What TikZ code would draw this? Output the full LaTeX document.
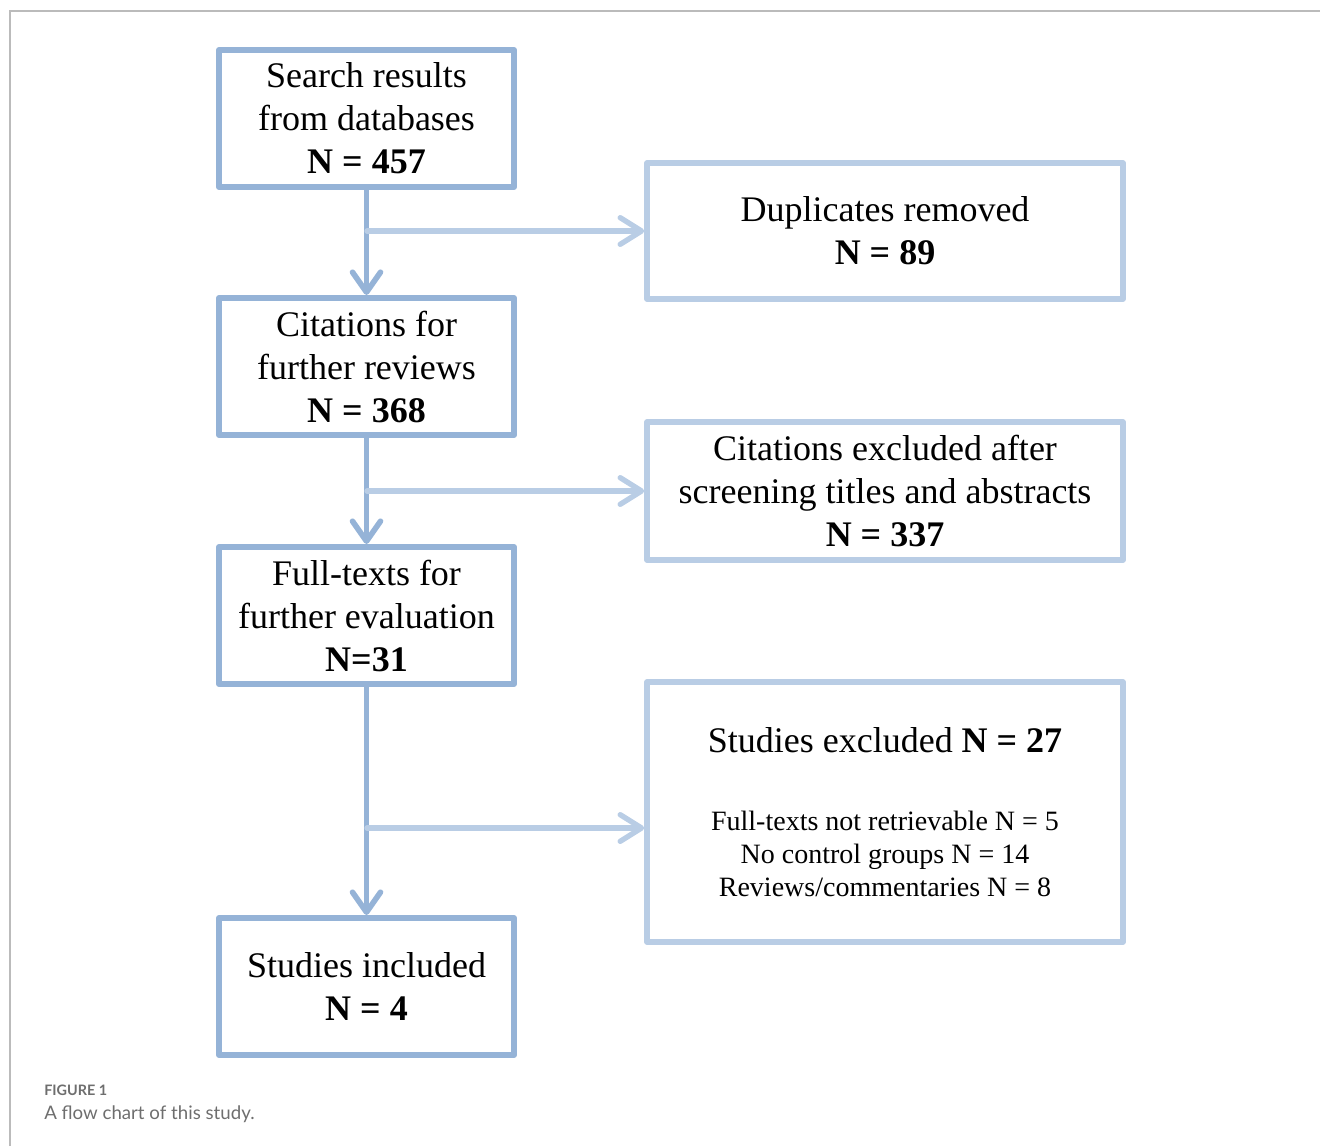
\documentclass[tikz,border=0pt]{standalone}
\usepackage{fontspec}
\setmainfont{Liberation Serif}
\newfontfamily\capfont{Lato}
\usetikzlibrary{arrows.meta}
\definecolor{darkblue}{HTML}{95B3D7}
\definecolor{lightblue}{HTML}{B9CDE5}
\definecolor{framegray}{HTML}{BBBBBB}
\definecolor{capgray}{HTML}{6E6E6E}
\tikzset{
  leftbox/.style={draw=darkblue, line width=4.5pt, line join=round, minimum width=221.25pt, minimum height=102.75pt, align=center, inner sep=0pt,
    font=\fontsize{27pt}{32.25pt}\selectfont},
  rightbox/.style={draw=lightblue, line width=4.2pt, line join=round, minimum width=357pt, align=center, inner sep=0pt,
    font=\fontsize{27pt}{32.25pt}\selectfont},
  varrow/.style={draw=darkblue, line width=4.2pt, line cap=round, line join=round,
    -{Straight Barb[length=15pt,width=21pt,line cap=round,line join=round]}},
  harrow/.style={draw=lightblue, line width=4pt, line cap=round, line join=round,
    -{Straight Barb[length=16pt,width=20pt,line cap=round,line join=round]}},
}
\newcommand\smallsz{\fontsize{21pt}{24.75pt}\selectfont}
\begin{document}
\begin{tikzpicture}[x=0.75pt,y=-0.75pt]
\useasboundingbox (0,0) rectangle (1320,1146);
\draw[framegray, line width=1.1pt] (10,1146) -- (10,11) -- (1320,11);

\node[leftbox] (a) at (366.5,118.5) {Search results\\from databases\\\textbf{N = 457}};
\node[leftbox] (b) at (366.5,366.5) {Citations for\\further reviews\\\textbf{N = 368}};
\node[leftbox] (c) at (366.5,615.5) {Full-texts for\\further evaluation\\\textbf{N=31}};
\node[leftbox] (d) at (366.5,986.5) {Studies included\\\textbf{N = 4}};

\node[rightbox, minimum height=102pt] (r1) at (885,231) {Duplicates removed\\\textbf{N = 89}};
\node[rightbox, minimum height=103.5pt] (r2) at (885,491) {Citations excluded after\\screening titles and abstracts\\\textbf{N = 337}};
\node[rightbox, minimum height=195pt] (r3) at (885,812) {Studies excluded \textbf{N = 27}\\[26pt]
  \smallsz Full-texts not retrievable N = 5\\[-7.5pt]\smallsz No control groups N = 14\\[-7.5pt]\smallsz Reviews/commentaries N = 8};

\draw[varrow] (a.south) -- (b.north);
\draw[varrow] (b.south) -- (c.north);
\draw[varrow] (c.south) -- (d.north);

\coordinate (p1) at (367,231);
\coordinate (p2) at (367,491);
\coordinate (p3) at (367,828);
\draw[harrow] (p1) -- (p1 -| r1.west);
\draw[harrow] (p2) -- (p2 -| r2.west);
\draw[harrow] (p3) -- (p3 -| r3.west);

\node[anchor=base west, inner sep=0pt, text=capgray, font=\capfont\bfseries\fontsize{10.8pt}{12pt}\selectfont] (cap1) at (44,1095) {FIGURE 1};
\node[anchor=base west, inner sep=0pt, text=capgray, font=\capfont\fontsize{14pt}{16pt}\selectfont] (cap2) at (44,1119) {A flow chart of this study.};
\end{tikzpicture}
\end{document}
